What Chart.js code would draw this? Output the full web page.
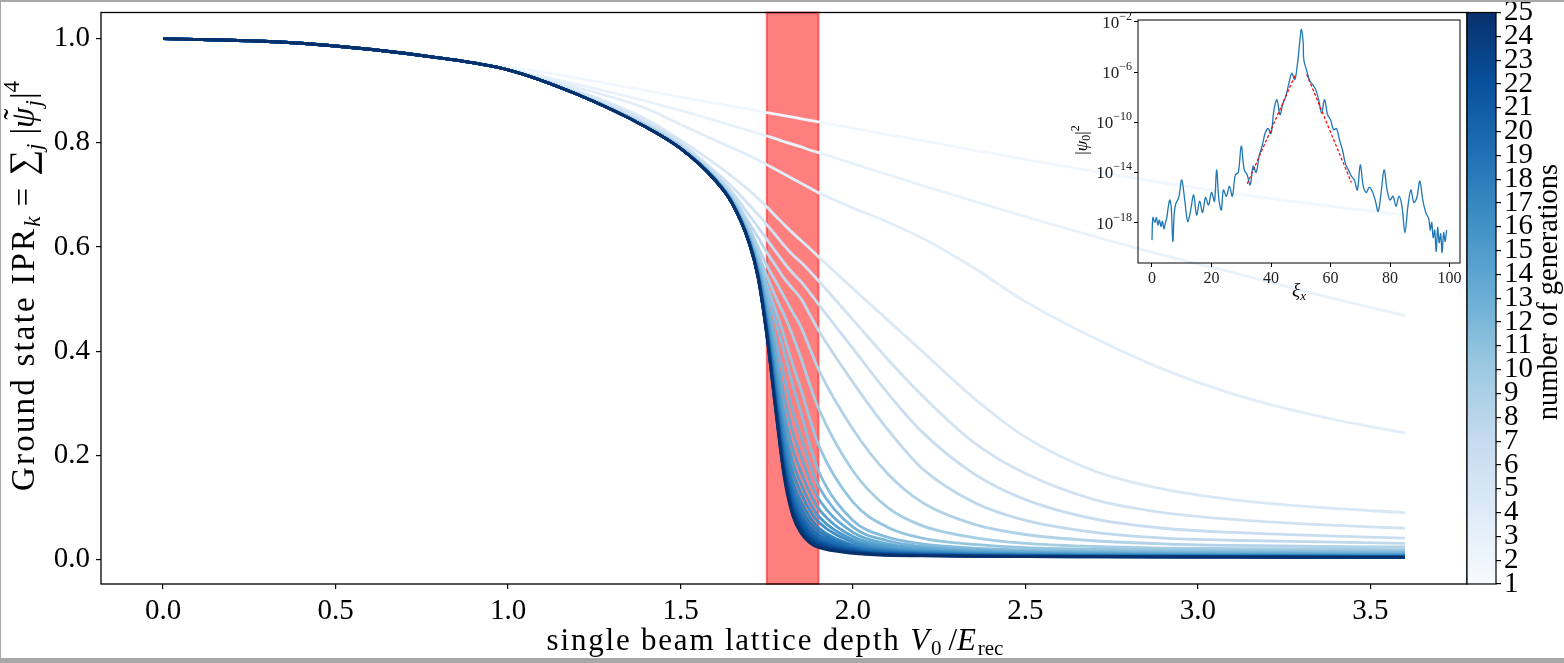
<!DOCTYPE html>
<html><head><meta charset="utf-8">
<script src="https://cdn.jsdelivr.net/npm/chart.js@4/dist/chart.umd.min.js"></script>
<style>
html,body{margin:0;padding:0;background:#fff;}
#wrap{position:relative;width:1564px;height:663px;overflow:hidden;background:#fff;}
canvas{position:absolute;left:0;top:0;}
.edge{position:absolute;background:#a8a8a8;}
</style></head><body>
<div id="wrap">
<canvas id="main" width="1564" height="663"></canvas>
<canvas id="cbar" width="1564" height="663"></canvas>
<canvas id="inset" width="1564" height="663"></canvas>
<div class="edge" style="left:0;top:0;width:1564px;height:2px"></div>
<div class="edge" style="left:0;top:0;width:1px;height:663px"></div>
<div class="edge" style="left:0;top:658px;width:1564px;height:5px"></div>
</div>
<script>
// ---------------- data ----------------
const depthGrid = [0,0.4,0.8,1.0,1.2,1.4,1.5,1.6,1.65,1.7,1.725,1.75,1.775,1.8,1.825,1.85,1.875,1.9,2.0,2.1,2.2,2.35,2.5,2.7,2.9,3.1,3.35,3.6];
const generations = [1,2,3,4,5,6,7,8,9,10,11,12,13,14,15,16,17,18,19,20,21,22,23,24,25];
const iprGen01 = [1.000,.991,.965,.946,.924,.900,.888,.876,.870,.864,.861,.858,.855,.852,.849,.846,.843,.840,.828,.816,.804,.786,.768,.745,.723,.703,.681,.661];
const iprGen02 = [1.000,.991,.964,.942,.912,.880,.862,.843,.833,.823,.818,.813,.808,.802,.797,.792,.786,.781,.760,.739,.718,.688,.658,.620,.584,.551,.508,.468];
const iprGen03 = [1.000,.991,.964,.941,.906,.866,.835,.805,.790,.775,.767,.758,.749,.740,.731,.722,.713,.704,.675,.648,.617,.560,.495,.425,.365,.318,.275,.243];
const iprGen04 = [1.000,.991,.963,.940,.900,.845,.805,.760,.735,.708,.693,.677,.660,.643,.627,.612,.597,.581,.520,.460,.400,.310,.235,.170,.135,.115,.100,.090];
const iprGen05 = [1.000,.991,.963,.940,.897,.840,.800,.745,.715,.680,.662,.643,.623,.603,.585,.570,.553,.535,.460,.385,.315,.225,.165,.115,.090,.077,.067,.060];
const iprGen06 = [1.000,.991,.963,.940,.895,.836,.797,.740,.705,.660,.638,.615,.592,.570,.550,.533,.512,.490,.405,.320,.245,.165,.115,.078,.060,.052,.046,.041];
const iprGen07 = [1.000,.991,.963,.940,.894,.834,.795,.737,.700,.645,.618,.590,.565,.540,.520,.500,.470,.440,.340,.250,.175,.110,.075,.052,.041,.037,.034,.031];
const iprGen08 = [1.000,.991,.963,.940,.894,.833,.793,.735,.695,.635,.600,.565,.535,.505,.475,.445,.405,.365,.250,.165,.110,.068,.048,.036,.030,.027,.025,.024];
const iprGen09 = [1.000,.991,.963,.940,.893,.832,.791,.733,.692,.628,.588,.545,.505,.470,.430,.385,.335,.290,.170,.100,.065,.042,.031,.025,.022,.021,.020,.019];
const iprGen10 = [1.000,.991,.963,.940,.893,.831,.790,.732,.690,.622,.578,.528,.480,.430,.375,.325,.270,.220,.110,.062,.041,.029,.023,.020,.018,.017,.0165,.016];
const iprGen11 = [1.000,.991,.963,.940,.893,.830,.789,.731,.688,.618,.570,.515,.458,.400,.335,.280,.220,.170,.075,.043,.030,.022,.018,.016,.015,.0145,.014,.014];
const iprGen12 = [1.000,.991,.963,.940,.893,.830,.789,.730,.687,.615,.564,.498,.424,.352,.285,.234,.182,.141,.062,.036,.025,.019,.0155,.0138,.0129,.0125,.0120,.0120];
const iprGen13 = [1.000,.991,.963,.940,.893,.830,.789,.730,.686,.613,.559,.484,.398,.314,.245,.197,.152,.117,.052,.030,.022,.016,.0135,.0120,.0113,.0109,.0105,.0104];
const iprGen14 = [1.000,.991,.963,.940,.893,.830,.789,.730,.686,.612,.555,.473,.376,.282,.213,.167,.128,.098,.044,.026,.0187,.0142,.0119,.0106,.0100,.0096,.0092,.0091];
const iprGen15 = [1.000,.991,.963,.940,.893,.830,.789,.730,.685,.610,.552,.465,.359,.258,.188,.144,.109,.083,.038,.022,.0164,.0126,.0106,.0095,.0089,.0086,.0082,.0081];
const iprGen16 = [1.000,.991,.963,.940,.893,.830,.789,.730,.685,.609,.550,.458,.345,.239,.168,.126,.094,.072,.033,.0195,.0146,.0113,.0096,.0086,.0081,.0078,.0074,.0073];
const iprGen17 = [1.000,.991,.963,.940,.893,.830,.789,.730,.684,.608,.548,.452,.334,.222,.150,.110,.081,.061,.028,.0171,.0130,.0102,.0088,.0079,.0074,.0071,.0067,.0066];
const iprGen18 = [1.000,.991,.963,.940,.893,.830,.789,.730,.684,.608,.546,.448,.325,.210,.137,.098,.071,.054,.025,.0154,.0118,.0094,.0081,.0073,.0069,.0066,.0063,.0061];
const iprGen19 = [1.000,.991,.963,.940,.893,.830,.789,.728,.684,.607,.545,.444,.317,.198,.125,.087,.062,.047,.022,.0136,.0107,.0086,.0075,.0068,.0063,.0061,.0058,.0056];
const iprGen20 = [1.000,.991,.963,.940,.893,.830,.789,.728,.684,.607,.544,.440,.310,.189,.115,.078,.055,.041,.0195,.0122,.0098,.0079,.0070,.0063,.0059,.0057,.0054,.0052];
const iprGen21 = [1.000,.991,.963,.940,.893,.830,.789,.728,.683,.606,.543,.438,.305,.182,.108,.071,.049,.036,.0177,.0112,.0091,.0074,.0066,.0060,.0056,.0054,.0051,.0049];
const iprGen22 = [1.000,.991,.963,.940,.893,.830,.789,.728,.683,.606,.542,.435,.300,.174,.100,.064,.043,.032,.0158,.0101,.0084,.0070,.0063,.0057,.0053,.0051,.0048,.0046];
const iprGen23 = [1.000,.991,.963,.940,.893,.830,.789,.728,.683,.606,.541,.433,.297,.170,.095,.059,.039,.029,.0145,.0094,.0079,.0066,.0060,.0054,.0051,.0049,.0046,.0044];
const iprGen24 = [1.000,.991,.963,.940,.893,.830,.789,.728,.683,.605,.541,.432,.293,.165,.090,.055,.036,.026,.0133,.0087,.0075,.0063,.0057,.0052,.0049,.0047,.0044,.0042];
const iprGen25 = [1.000,.991,.963,.940,.893,.830,.789,.728,.683,.605,.540,.430,.290,.160,.085,.050,.032,.023,.0120,.0080,.0070,.0060,.0055,.0050,.0047,.0045,.0042,.0040];
const iprSeries = [iprGen01,iprGen02,iprGen03,iprGen04,iprGen05,iprGen06,iprGen07,iprGen08,iprGen09,iprGen10,iprGen11,iprGen12,iprGen13,iprGen14,iprGen15,iprGen16,iprGen17,iprGen18,iprGen19,iprGen20,iprGen21,iprGen22,iprGen23,iprGen24,iprGen25];
const criticalBand = [1.75, 1.9];
const depthTicks = [0,0.5,1.0,1.5,2.0,2.5,3.0,3.5];
const iprTicks = [0,0.2,0.4,0.6,0.8,1.0];
const generationTicks = generations;

// inset: ground state |psi_0|^2 (log10) vs xi_x
const insetXi = [0,0.3,1,1.5,2,2.5,3,3.5,4,4.5,5,5.5,6,6.5,7,7.5,8,9,10,11,12,13,14,15,16,17,18,19,20,21,21.7,22.5,23.3,24,25,26,27,28,29,30,31,32,33,34,35,36,37,38,39,40,41,42,43,44,45,46,47,48,49,49.7,50.2,50.8,51,52,53,54,55,56,57,58,59,60,61,62,63,64,65,66,67,68,69,70,71,72,73,74,75,76,77,78,79,80,81,82,83,84,85,86,87,88,89,90,91,92,93,93.5,94,94.5,95,95.5,96,96.5,97,97.5,98,98.5,99];
const insetLogPsi = [-19.4,-17.6,-18.0,-17.6,-18.2,-17.8,-18.3,-17.9,-18.5,-18.0,-17.6,-16.7,-16.2,-16.9,-19.5,-17.2,-16.5,-16.0,-14.6,-16.2,-17.9,-17.0,-15.8,-17.4,-16.3,-17.2,-16.0,-16.6,-15.6,-16.3,-13.8,-16.2,-17.0,-15.4,-15.9,-15.1,-15.9,-14.2,-14.0,-11.9,-13.8,-14.2,-15.0,-13.5,-14.0,-12.7,-11.9,-10.9,-10.5,-10.9,-9.0,-8.2,-9.4,-8.5,-7.9,-6.9,-6.1,-6.6,-5.1,-3.5,-2.6,-3.6,-5.0,-5.9,-6.7,-7.0,-7.4,-8.2,-9.3,-8.2,-9.4,-9.8,-10.6,-10.5,-11.4,-12.2,-13.3,-13.8,-14.3,-14.6,-15.4,-13.4,-15.1,-15.6,-15.2,-15.5,-16.2,-17.1,-15.6,-13.8,-15.4,-16.2,-15.9,-16.7,-15.9,-16.7,-18.8,-16.7,-15.4,-16.4,-16.0,-14.7,-16.2,-17.2,-17.7,-18.6,-18.0,-19.2,-18.6,-20.3,-18.4,-19.6,-18.9,-20.4,-18.8,-19.5,-18.6];
const fitLeftXi = [32,48];
const fitLeftLog = [-14.9,-6.3];
const fitRightXi = [52,67];
const fitRightLog = [-6.2,-14.8];
const insetXiTicks = [0,20,40,60,80,100];
const insetExpTicks = [-18,-14,-10,-6,-2];

// ---------------- styling helpers ----------------
const BLUES = ['#f7fbff','#deebf7','#c6dbef','#9ecae1','#6baed6','#4292c6','#2171b5','#08519c','#08306b'];
function hex2rgb(h){return [parseInt(h.substr(1,2),16),parseInt(h.substr(3,2),16),parseInt(h.substr(5,2),16)];}
function blues(t){
  t=Math.max(0,Math.min(1,t)); const p=t*(BLUES.length-1); const i=Math.min(Math.floor(p),BLUES.length-2); const f=p-i;
  const a=hex2rgb(BLUES[i]), b=hex2rgb(BLUES[i+1]);
  return 'rgb('+a.map((v,k)=>Math.round(v+(b[k]-v)*f)).join(',')+')';
}
const SERIF = '"Liberation Serif", "DejaVu Serif", serif';
Chart.defaults.font.family = SERIF;
Chart.defaults.color = '#000';

function drawRich(ctx, segs, x, y, angle){
  ctx.save(); ctx.translate(x,y); ctx.rotate(angle);
  let total=0;
  segs.forEach(s=>{ctx.font=s.font; ctx.letterSpacing=s.ls||'0px'; s.w=ctx.measureText(s.t).width; if(!s.over) total+=s.w+(s.gap||0);});
  let cx=-total/2, prevW=0;
  ctx.textBaseline='alphabetic'; ctx.textAlign='left'; ctx.fillStyle='#000';
  segs.forEach(s=>{
    ctx.font=s.font; ctx.letterSpacing=s.ls||'0px';
    if(s.over){ ctx.fillText(s.t, cx-prevW/2-s.w/2+(s.dx||0), s.dy||0); return; }
    ctx.fillText(s.t,cx,s.dy||0); prevW=s.w+(s.gap||0); cx+=s.w+(s.gap||0);
  });
  ctx.restore();
}
const R = (px)=> px+'px '+SERIF;
const I = (px)=> 'italic '+px+'px '+SERIF;
function noPadV(s){s.paddingTop=0;s.paddingBottom=0;}
function noPadH(s){s.paddingLeft=0;s.paddingRight=0;}

// ---------------- main chart ----------------
const mainPlugin = {
  id:'mainDecor',
  beforeDatasetsDraw(chart){
    const {ctx, chartArea:a, scales:{x}} = chart;
    const x0=x.getPixelForValue(criticalBand[0]), x1=x.getPixelForValue(criticalBand[1]);
    ctx.save();
    ctx.fillStyle='rgba(255,0,0,0.5)'; ctx.fillRect(x0,a.top,x1-x0,a.bottom-a.top);
    ctx.strokeStyle='rgba(255,0,0,0.5)'; ctx.lineWidth=2; ctx.strokeRect(x0,a.top,x1-x0,a.bottom-a.top);
    ctx.restore();
  },
  afterDraw(chart){
    const {ctx, chartArea:a} = chart;
    ctx.save(); ctx.strokeStyle='#000'; ctx.lineWidth=1.3; ctx.strokeRect(a.left,a.top,a.right-a.left,a.bottom-a.top); ctx.restore();
    const ls='1.8px';
    drawRich(ctx,[
      {t:'single beam lattice depth ',font:R(31),ls},
      {t:'V',font:I(31),ls},{t:'0',font:R(21),dy:5,gap:7},
      {t:'/',font:R(31)},
      {t:'E',font:I(31),ls},{t:'rec',font:R(21),dy:5}
    ],775,650,0);
    drawRich(ctx,[
      {t:'Ground state IPR',font:R(33),ls:'2.2px'},{t:'k',font:I(23),dy:6,gap:10},
      {t:'= ',font:R(33),ls:'2px'},{t:'∑',font:R(36)},{t:'j',font:I(23),dy:8,gap:9},
      {t:'|',font:R(33)},{t:'ψ',font:I(33),gap:1},{t:'˜',font:R(33),over:true,dx:3,dy:-7},
      {t:'j',font:I(23),dy:7,gap:1},{t:'|',font:R(33)},{t:'4',font:R(23),dy:-15}
    ],34,286,-Math.PI/2);
  }
};

const mainDatasets = iprSeries.map((vals,k)=>({
  label:'generation '+generations[k],
  data: depthGrid.map((d,i)=>({x:d,y:vals[i]})),
  borderColor: blues(0.03+0.97*(generations[k]-1)/24),
  borderWidth: 2.8,
  pointRadius: 0,
  fill:false,
  cubicInterpolationMode:'monotone',
  order: 25-generations[k]
}));

new Chart(document.getElementById('main'),{
  type:'line',
  data:{datasets:mainDatasets},
  options:{
    responsive:false, animation:false, devicePixelRatio:1,
    layout:{padding:{left:0,top:12.5,right:97,bottom:0}},
    plugins:{legend:{display:false},tooltip:{enabled:false}},
    scales:{
      x:{type:'linear',min:-0.18,max:3.78,
        afterBuildTicks(s){s.ticks=depthTicks.map(v=>({value:v}));},
        afterFit(s){s.height=79; noPadH(s);},
        ticks:{font:{size:29},color:'#000',padding:5,maxRotation:0,autoSkip:false,callback:v=>v.toFixed(1)},
        grid:{display:true,drawOnChartArea:false,drawTicks:true,tickLength:5,color:'#000',lineWidth:1.2},
        border:{display:false}},
      y:{type:'linear',min:-0.047,max:1.05,
        afterBuildTicks(s){s.ticks=iprTicks.map(v=>({value:v}));},
        afterFit(s){s.width=101; noPadV(s);},
        ticks:{font:{size:29},color:'#000',padding:6,autoSkip:false,callback:v=>v.toFixed(1)},
        grid:{display:true,drawOnChartArea:false,drawTicks:true,tickLength:5,color:'#000',lineWidth:1.2},
        border:{display:false}}
    }
  },
  plugins:[mainPlugin]
});

// ---------------- colorbar ----------------
const cbarPlugin = {
  id:'cbarDecor',
  afterDraw(chart){
    const {ctx, chartArea:a} = chart;
    ctx.save(); ctx.strokeStyle='#000'; ctx.lineWidth=1.2; ctx.strokeRect(a.left,a.top,a.right-a.left,a.bottom-a.top); ctx.restore();
    drawRich(ctx,[{t:'number of generations',font:R(28.5)}],1557,292,-Math.PI/2);
  }
};
new Chart(document.getElementById('cbar'),{
  type:'bar',
  data:{labels:['generations'],datasets:[{
    data:[[generations[0],generations[generations.length-1]]],
    barPercentage:1,categoryPercentage:1,borderWidth:0,
    backgroundColor(c){
      const ch=c.chart, a=ch.chartArea; if(!a) return BLUES[4];
      const g=ch.ctx.createLinearGradient(0,a.bottom,0,a.top);
      BLUES.forEach((col,i)=>g.addColorStop(i/(BLUES.length-1),col));
      return g;
    }
  }]},
  options:{
    responsive:false, animation:false, devicePixelRatio:1,
    layout:{padding:{left:1467,top:12.5,right:0,bottom:79}},
    plugins:{legend:{display:false},tooltip:{enabled:false}},
    scales:{
      x:{display:false},
      y:{position:'right',min:1,max:25,
        afterBuildTicks(s){s.ticks=generationTicks.map(v=>({value:v}));},
        afterFit(s){s.width=68; noPadV(s);},
        ticks:{font:{size:29},color:'#000',padding:3,autoSkip:false},
        grid:{display:true,drawOnChartArea:false,drawTicks:true,tickLength:5,color:'#000',lineWidth:1.2},
        border:{display:false}}
    }
  },
  plugins:[cbarPlugin]
});

// ---------------- inset ----------------
const insetPlugin = {
  id:'insetDecor',
  afterDraw(chart){
    const {ctx, chartArea:a, scales:{y}} = chart;
    ctx.save(); ctx.strokeStyle='#000'; ctx.lineWidth=1; ctx.strokeRect(a.left,a.top,a.right-a.left,a.bottom-a.top);
    ctx.fillStyle='#222'; ctx.textBaseline='alphabetic';
    insetExpTicks.forEach(e=>{
      const py=y.getPixelForValue(Math.pow(10,e));
      const sup='−'+Math.abs(e);
      ctx.font=R(12); const ws=ctx.measureText(sup).width;
      ctx.font=R(17); const wb=ctx.measureText('10').width;
      const right=a.left-6;
      ctx.fillText('10',right-ws-wb,py+6);
      ctx.font=R(12); ctx.fillText(sup,right-ws,py-2);
    });
    ctx.restore();
    drawRich(ctx,[{t:'|',font:R(17)},{t:'ψ',font:I(17)},{t:'0',font:R(12),dy:3},{t:'|',font:R(17)},{t:'2',font:R(12),dy:-8}],1087,140,-Math.PI/2);
    drawRich(ctx,[{t:'ξ',font:I(19)},{t:'x',font:I(13),dy:4}],1299,296,0);
  }
};
new Chart(document.getElementById('inset'),{
  type:'line',
  data:{datasets:[
    {data:insetXi.map((v,i)=>({x:v,y:Math.pow(10,insetLogPsi[i])})),borderColor:'#1f77b4',borderWidth:1.3,pointRadius:0,tension:0.35,order:2},
    {data:fitLeftXi.map((v,i)=>({x:v,y:Math.pow(10,fitLeftLog[i])})),borderColor:'#ff0000',borderWidth:1.2,borderDash:[3,2],pointRadius:0,order:1},
    {data:fitRightXi.map((v,i)=>({x:v,y:Math.pow(10,fitRightLog[i])})),borderColor:'#ff0000',borderWidth:1.2,borderDash:[3,2],pointRadius:0,order:1}
  ]},
  options:{
    responsive:false, animation:false, devicePixelRatio:1,
    layout:{padding:{left:1062,top:20,right:104,bottom:350}},
    plugins:{legend:{display:false},tooltip:{enabled:false}},
    scales:{
      x:{type:'linear',min:-4.7,max:103.5,
        afterBuildTicks(s){s.ticks=insetXiTicks.map(v=>({value:v}));},
        afterFit(s){s.height=50; noPadH(s);},
        ticks:{font:{size:16},color:'#222',padding:2,maxRotation:0,autoSkip:false},
        grid:{display:true,drawOnChartArea:false,drawTicks:true,tickLength:4,color:'#000',lineWidth:1},
        border:{display:false}},
      y:{type:'logarithmic',min:Math.pow(10,-21.2),max:Math.pow(10,-1.85),
        afterBuildTicks(s){s.ticks=insetExpTicks.map(e=>({value:Math.pow(10,e)}));},
        afterFit(s){s.width=76; noPadV(s);},
        ticks:{callback:()=>'',autoSkip:false},
        grid:{display:true,drawOnChartArea:false,drawTicks:true,tickLength:4,color:'#000',lineWidth:1},
        border:{display:false}}
    }
  },
  plugins:[insetPlugin]
});
</script>
</body></html>
